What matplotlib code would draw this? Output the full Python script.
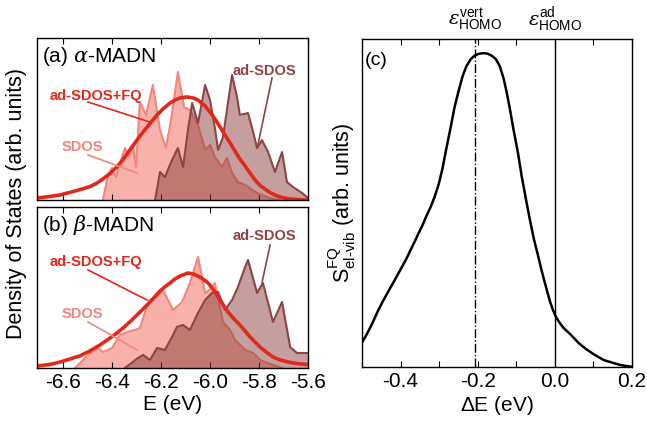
import matplotlib.pyplot as plt
import numpy as np

plt.rcParams['font.family'] = ['Liberation Sans', 'DejaVu Sans']
plt.rcParams['mathtext.fontset'] = 'custom'
plt.rcParams['mathtext.rm'] = 'Liberation Sans'
plt.rcParams['mathtext.it'] = 'DejaVu Serif:italic'
plt.rcParams['axes.unicode_minus'] = False

# colours
c_fq = '#E2281A'
c_sdos_line = '#F2857C'
c_sdos_fill = '#F8B2AB'
c_ad_line = '#8E4444'
c_ad_fill = '#8A403C'

# ---- (a) alpha-MADN ----
e_sdos_a = np.array([-6.437, -6.416, -6.400, -6.384, -6.367, -6.347, -6.331, -6.314, -6.302, -6.286,
                     -6.261, -6.233, -6.204, -6.180, -6.159, -6.131, -6.106, -6.082, -6.049, -6.020,
                     -6.000, -5.980, -5.951, -5.931, -5.910, -5.886, -5.857, -5.808, -5.755, -5.714])
sdos_a = np.array([0.0, 0.154, 0.198, 0.142, 0.228, 0.321, 0.265, 0.340, 0.204, 0.605,
                   0.525, 0.710, 0.432, 0.321, 0.494, 0.790, 0.574, 0.556, 0.463, 0.309,
                   0.340, 0.265, 0.204, 0.259, 0.167, 0.111, 0.093, 0.043, 0.012, 0.0])

e_ad_a = np.array([-6.224, -6.204, -6.184, -6.155, -6.131, -6.110, -6.090, -6.073, -6.061, -6.049,
                   -6.020, -6.000, -5.980, -5.967, -5.947, -5.910, -5.890, -5.878, -5.845, -5.824,
                   -5.808, -5.788, -5.763, -5.735, -5.706, -5.686, -5.661, -5.624, -5.600])
ad_a = np.array([0.0, 0.173, 0.142, 0.247, 0.321, 0.204, 0.432, 0.599, 0.537, 0.475,
                 0.710, 0.617, 0.444, 0.309, 0.389, 0.772, 0.636, 0.525, 0.537, 0.420,
                 0.321, 0.370, 0.296, 0.173, 0.296, 0.111, 0.080, 0.043, 0.012])

e_fq_a = np.array([-6.706, -6.653, -6.612, -6.559, -6.522, -6.490, -6.461, -6.437, -6.408, -6.380,
                   -6.355, -6.327, -6.298, -6.273, -6.245, -6.216, -6.192, -6.163, -6.143, -6.122,
                   -6.094, -6.069, -6.049, -6.020, -6.000, -5.980, -5.959, -5.939, -5.918, -5.898,
                   -5.878, -5.857, -5.837, -5.816, -5.796, -5.776, -5.755, -5.735, -5.706, -5.673,
                   -5.633, -5.600])
fq_a = np.array([0.012, 0.022, 0.031, 0.052, 0.068, 0.083, 0.105, 0.130, 0.164, 0.204,
                 0.250, 0.309, 0.370, 0.420, 0.472, 0.525, 0.562, 0.599, 0.617, 0.630,
                 0.636, 0.630, 0.617, 0.580, 0.543, 0.500, 0.451, 0.401, 0.352, 0.302,
                 0.253, 0.210, 0.167, 0.123, 0.090, 0.068, 0.046, 0.031, 0.015, 0.006,
                 0.002, 0.0])

# ---- (b) beta-MADN ----
e_sdos_b = np.array([-6.551, -6.510, -6.461, -6.437, -6.400, -6.367, -6.339, -6.306, -6.286, -6.265,
                     -6.245, -6.216, -6.192, -6.171, -6.151, -6.114, -6.082, -6.049, -6.020, -5.992,
                     -5.980, -5.947, -5.918, -5.898, -5.857, -5.824, -5.796, -5.755, -5.706])
sdos_b = np.array([0.0, 0.062, 0.130, 0.099, 0.124, 0.205, 0.224, 0.236, 0.248, 0.348,
                   0.422, 0.441, 0.484, 0.422, 0.360, 0.410, 0.528, 0.689, 0.466, 0.497,
                   0.528, 0.286, 0.236, 0.174, 0.112, 0.093, 0.050, 0.025, 0.0])

e_ad_b = np.array([-6.347, -6.294, -6.273, -6.245, -6.216, -6.184, -6.155, -6.135, -6.110, -6.082,
                   -6.049, -6.020, -5.992, -5.967, -5.939, -5.910, -5.886, -5.857, -5.845, -5.808,
                   -5.784, -5.743, -5.706, -5.673, -5.645, -5.600])
ad_b = np.array([0.0, 0.062, 0.081, 0.050, 0.124, 0.112, 0.193, 0.255, 0.267, 0.236,
                 0.342, 0.422, 0.466, 0.472, 0.360, 0.422, 0.503, 0.627, 0.671, 0.466,
                 0.528, 0.286, 0.410, 0.130, 0.093, 0.093])

e_fq_b = np.array([-6.706, -6.653, -6.612, -6.571, -6.531, -6.490, -6.449, -6.408, -6.380, -6.355,
                   -6.327, -6.298, -6.265, -6.233, -6.204, -6.180, -6.163, -6.143, -6.122, -6.090,
                   -6.069, -6.049, -6.029, -6.008, -5.988, -5.967, -5.947, -5.927, -5.902, -5.878,
                   -5.857, -5.837, -5.816, -5.796, -5.771, -5.743, -5.714, -5.673, -5.633, -5.600])
fq_b = np.array([0.012, 0.022, 0.037, 0.056, 0.075, 0.106, 0.143, 0.186, 0.217, 0.248,
                 0.286, 0.329, 0.379, 0.429, 0.478, 0.509, 0.528, 0.553, 0.571, 0.590,
                 0.584, 0.571, 0.553, 0.528, 0.491, 0.441, 0.394, 0.348, 0.304, 0.267,
                 0.230, 0.193, 0.161, 0.130, 0.099, 0.068, 0.050, 0.034, 0.025, 0.022])

# ---- (c) S_el-vib ----
de = np.array([-0.499, -0.486, -0.473, -0.460, -0.447, -0.434, -0.421, -0.408, -0.395, -0.384,
               -0.374, -0.364, -0.353, -0.343, -0.333, -0.322, -0.312, -0.301, -0.291, -0.281,
               -0.270, -0.260, -0.249, -0.239, -0.229, -0.218, -0.208, -0.197, -0.184, -0.174,
               -0.164, -0.153, -0.143, -0.133, -0.125, -0.117, -0.107, -0.096, -0.086, -0.075,
               -0.065, -0.055, -0.044, -0.034, -0.023, -0.013, -0.005, 0.003, 0.013, 0.023,
               0.042, 0.062, 0.081, 0.104, 0.127, 0.151, 0.171, 0.203])
s_elvib = np.array([0.080, 0.108, 0.140, 0.175, 0.207, 0.236, 0.264, 0.293, 0.322, 0.347,
                    0.373, 0.398, 0.427, 0.452, 0.481, 0.510, 0.541, 0.583, 0.634, 0.698,
                    0.764, 0.828, 0.882, 0.927, 0.959, 0.981, 0.992, 0.998, 1.0, 0.998,
                    0.992, 0.981, 0.959, 0.920, 0.876, 0.825, 0.755, 0.685, 0.608, 0.535,
                    0.471, 0.411, 0.357, 0.306, 0.255, 0.210, 0.182, 0.159, 0.140, 0.124,
                    0.102, 0.076, 0.057, 0.038, 0.022, 0.013, 0.006, 0.0])
e_vert = -0.207
e_ad = 0.0

fs = 15
fig = plt.figure(figsize=(6.47, 4.26), dpi=100)
ax_a = fig.add_axes([0.0572, 0.5305, 0.4189, 0.3803])
ax_b = fig.add_axes([0.0572, 0.1362, 0.4189, 0.3779])
ax_c = fig.add_axes([0.5595, 0.1385, 0.4173, 0.7700])


def draw_dos(ax, e_s, s, e_a, a, e_f, f):
    ax.fill_between(e_s, 0, s, color=c_sdos_fill, lw=0, zorder=1)
    ax.plot(e_s, s, color=c_sdos_line, lw=1.5, zorder=2)
    ax.fill_between(e_a, 0, a, color=c_ad_fill, alpha=0.5, lw=0, zorder=3)
    ax.plot(e_a, a, color=c_ad_line, lw=1.5, zorder=4)
    ax.plot(e_f, f, color=c_fq, lw=2.6, zorder=5, solid_joinstyle='round')
    ax.set_xlim(-6.706, -5.6)
    ax.set_ylim(0, 1)
    ax.set_xticks([-6.6, -6.4, -6.2, -6.0, -5.8, -5.6])
    ax.set_yticks([])
    ax.tick_params(axis='x', direction='in', top=True, length=4, width=0.8, labelsize=fs)
    for sp in ax.spines.values():
        sp.set_linewidth(1.0)
        sp.set_zorder(6)


def labels(ax, title, ya):
    # ya: y positions of (title, fq, sdos, ad) labels
    ax.text(0.018, ya[0], title, transform=ax.transAxes, fontsize=15, va='center', ha='left')
    ax.text(0.048, ya[1], 'ad-SDOS+FQ', transform=ax.transAxes, fontsize=10.5, fontweight='bold',
            color=c_fq, va='center', zorder=7)
    ax.text(0.092, ya[2], 'SDOS', transform=ax.transAxes, fontsize=10.5, fontweight='bold',
            color=c_sdos_line, va='center', zorder=7)
    ax.text(0.723, ya[3], 'ad-SDOS', transform=ax.transAxes, fontsize=10.5, fontweight='bold',
            color=c_ad_line, va='center', zorder=7)


draw_dos(ax_a, e_sdos_a, sdos_a, e_ad_a, ad_a, e_fq_a, fq_a)
draw_dos(ax_b, e_sdos_b, sdos_b, e_ad_b, ad_b, e_fq_b, fq_b)
ax_a.tick_params(axis='x', labelbottom=False)

labels(ax_a, r'(a) $\alpha$-MADN', [0.883, 0.642, 0.327, 0.796])
ax_a.plot([0.188, 0.417], [0.605, 0.481], transform=ax_a.transAxes, color=c_fq, lw=1.2, zorder=7)
ax_a.plot([0.188, 0.369], [0.278, 0.167], transform=ax_a.transAxes, color=c_sdos_line, lw=1.2, zorder=7)
ax_a.plot([0.867, 0.815], [0.753, 0.340], transform=ax_a.transAxes, color=c_ad_line, lw=1.2, zorder=7)

labels(ax_b, r'(b) $\beta$-MADN', [0.888, 0.658, 0.335, 0.820])
ax_b.plot([0.188, 0.406], [0.609, 0.422], transform=ax_b.transAxes, color=c_fq, lw=1.2, zorder=7)
ax_b.plot([0.188, 0.369], [0.286, 0.112], transform=ax_b.transAxes, color=c_sdos_line, lw=1.2, zorder=7)
ax_b.plot([0.860, 0.830], [0.764, 0.528], transform=ax_b.transAxes, color=c_ad_line, lw=1.2, zorder=7)

ax_b.set_xlabel('E (eV)', fontsize=fs, labelpad=2)
fig.text(0.026, 0.523, 'Density of States (arb. units)', rotation=90, fontsize=15.5,
         ha='center', va='center')

# panel (c)
ax_c.plot(de, s_elvib, color='black', lw=1.8, solid_joinstyle='round')
ax_c.axvline(e_vert, color='black', lw=1.0, ls='-.')
ax_c.axvline(e_ad, color='black', lw=1.0)
ax_c.set_xlim(-0.5, 0.2)
ax_c.set_ylim(0, 1.045)
ax_c.set_xticks([-0.4, -0.3, -0.2, -0.1, 0.0, 0.1, 0.2])
ax_c.set_xticklabels(['-0.4', '', '-0.2', '', '0.0', '', '0.2'])
ax_c.set_yticks([])
ax_c.tick_params(axis='x', direction='in', top=True, length=4, width=0.8, labelsize=fs)
for sp in ax_c.spines.values():
    sp.set_linewidth(1.0)
ax_c.set_xlabel(r'$\Delta$E (eV)', fontsize=fs, labelpad=2)
ax_c.set_ylabel(r'$\mathrm{S}^{\mathrm{FQ}}_{\mathrm{el\text{-}vib}}$ (arb. units)', fontsize=15.5, labelpad=3)
ax_c.text(0.012, 0.933, '(c)', transform=ax_c.transAxes, fontsize=14, va='center', ha='left')
tr = ax_c.get_xaxis_transform()
ax_c.text(e_vert, 1.06, r'$\varepsilon^{\mathrm{vert}}_{\mathrm{HOMO}}$', transform=tr, fontsize=14,
          ha='center', va='center')
ax_c.text(e_ad, 1.06, r'$\varepsilon^{\mathrm{ad}}_{\mathrm{HOMO}}$', transform=tr, fontsize=14,
          ha='center', va='center')

fig.savefig('out.png', dpi=100)
